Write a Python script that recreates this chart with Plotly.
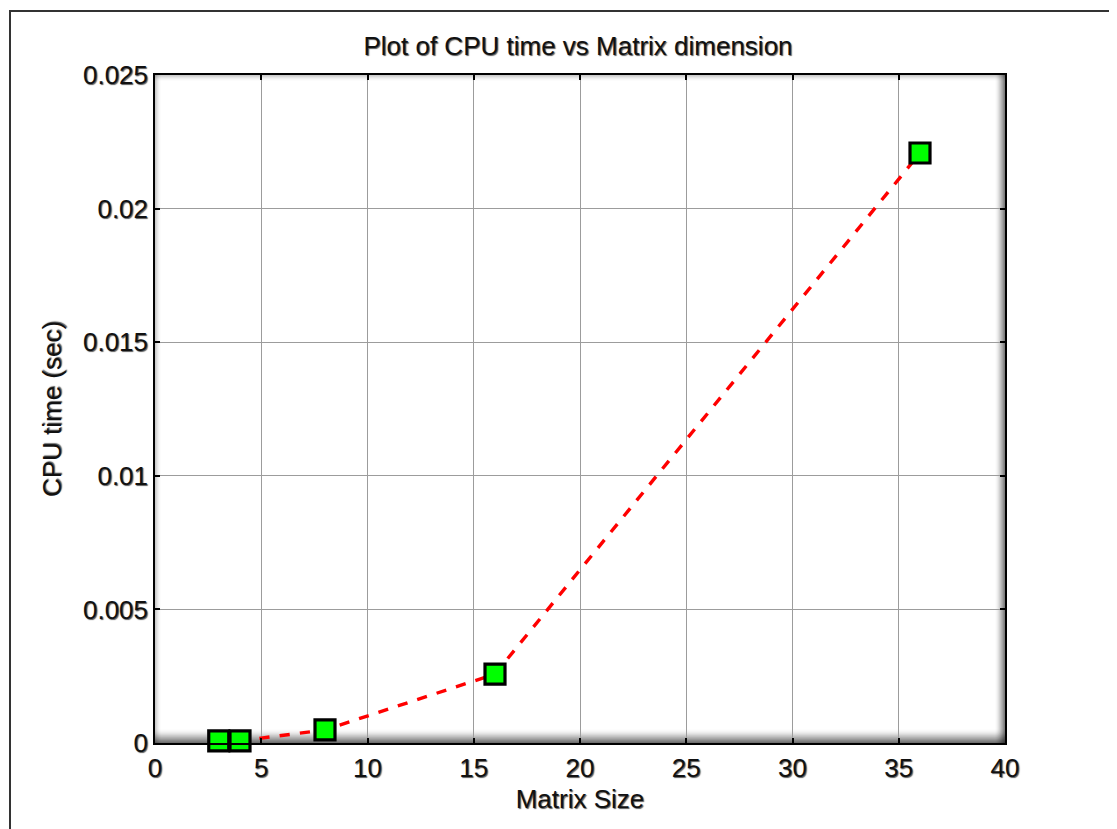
import plotly.graph_objects as go

matrix_size = [3, 4, 8, 16, 36]
cpu_time = [0.00008, 0.00008, 0.00049, 0.00258, 0.02208]

x_ticks = [0, 5, 10, 15, 20, 25, 30, 35, 40]
y_ticks = [0, 0.005, 0.01, 0.015, 0.02, 0.025]
y_tick_text = ["0", "0.005", "0.01", "0.015", "0.02", "0.025"]

# page has an 8px body margin; compensate so the plot lands where the reference has it
OFF = 8
W, H = 1117 - OFF, 829 - OFF
PL, PR, PT, PB = 155, 1005, 75, 743  # plot area in screen pixels
L, T = PL - OFF, PT - OFF
pw, ph = PR - PL, PB - PT
R, B = W - L - pw, H - T - ph

def px_x(p):
    return (p - PL) / pw

def px_y(p):
    return (PB - p) / ph

shadow = "1px 1px 1px rgba(0,0,0,0.65)"
FAM = "Liberation Sans, Arial, Helvetica, sans-serif"
font = dict(family=FAM, color="#111111", size=26, shadow=shadow)

fig = go.Figure()
fig.add_trace(go.Scatter(
    x=matrix_size, y=cpu_time, mode="lines+markers",
    line=dict(color="#ff0000", width=3.4, dash="dash"),
    marker=dict(symbol="square", size=20, color="#00ff00",
                line=dict(color="black", width=3.2)),
    cliponaxis=False, showlegend=False,
))

shapes = []
# inner shading near edges of the plot area
for i in range(14):
    op = 0.10 * (1 - i / 14)
    shapes.append(dict(type="rect", xref="paper", yref="paper",
                       x0=0, x1=1, y0=0, y1=(i + 1) / ph,
                       fillcolor=f"rgba(0,0,0,{op:.3f})", line=dict(width=0), layer="below"))
for i in range(10):
    op = 0.12 * (1 - i / 10)
    shapes.append(dict(type="rect", xref="paper", yref="paper",
                       x0=1 - (i + 1) / pw, x1=1, y0=0, y1=1,
                       fillcolor=f"rgba(0,0,0,{op:.3f})", line=dict(width=0), layer="below"))
for i in range(6):
    op = 0.06 * (1 - i / 6)
    shapes.append(dict(type="rect", xref="paper", yref="paper",
                       x0=0, x1=(i + 1) / pw, y0=0, y1=1,
                       fillcolor=f"rgba(0,0,0,{op:.3f})", line=dict(width=0), layer="below"))
    shapes.append(dict(type="rect", xref="paper", yref="paper",
                       x0=0, x1=1, y0=1 - (i + 1) / ph, y1=1,
                       fillcolor=f"rgba(0,0,0,{op:.3f})", line=dict(width=0), layer="below"))
# outer figure frame
shapes.append(dict(type="rect", xref="paper", yref="paper",
                   x0=px_x(10), x1=px_x(1110), y0=px_y(900), y1=px_y(11),
                   line=dict(color="#333333", width=2), fillcolor="rgba(0,0,0,0)", layer="above"))

fig.update_layout(
    width=W, height=H,
    margin=dict(l=L, r=R, t=T, b=B),
    paper_bgcolor="white", plot_bgcolor="white",
    font=font,
    title=dict(text="Plot of CPU time vs Matrix dimension", xref="container",
               x=(578 - OFF) / W, xanchor="center",
               yref="container", y=1 - (46 - OFF) / H, yanchor="middle", font=font),
    shapes=shapes,
    xaxis=dict(range=[0, 40], tickvals=x_ticks, ticktext=[str(v) for v in x_ticks],
               showgrid=True, gridcolor="#9c9c9c", gridwidth=1,
               zeroline=False, showline=True, linecolor="black", linewidth=1.5, mirror="ticks",
               ticks="inside", ticklen=5, tickcolor="black", tickwidth=1.5,
               ticklabelstandoff=1,
               title=dict(text="Matrix Size", standoff=8, font=font), tickfont=font),
    yaxis=dict(range=[0, 0.025], tickvals=y_ticks, ticktext=y_tick_text,
               showgrid=True, gridcolor="#9c9c9c", gridwidth=1,
               zeroline=False, showline=True, linecolor="black", linewidth=1.5, mirror="ticks",
               ticks="inside", ticklen=5, tickcolor="black", tickwidth=1.5,
               title=dict(text="CPU time (sec)", standoff=14, font=font), tickfont=font),
)

fig.write_html("out.html")
